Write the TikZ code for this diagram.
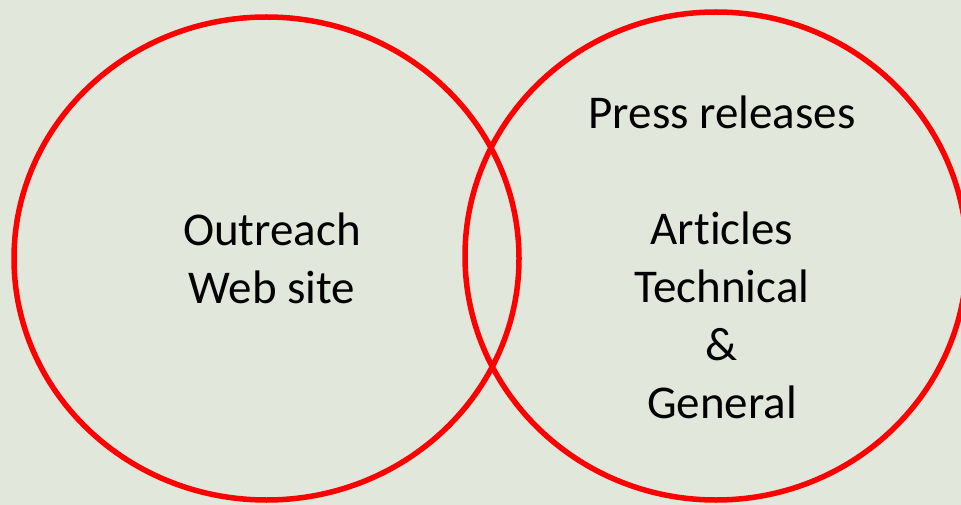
\documentclass[tikz,border=0pt]{standalone}
\usepackage{fontspec}
\setmainfont[Ligatures=NoCommon]{Carlito}
\usepackage{tikz}
\usetikzlibrary{shapes.geometric, positioning, calc}

\definecolor{meadow}{RGB}{226,231,220}
\definecolor{ringred}{RGB}{255,0,0}

\begin{document}
\begin{tikzpicture}[
        x=1pt, y=-1pt,
        ring/.style={ellipse, draw=ringred, line width=5.5pt, inner sep=0pt},
        label text/.style={align=center, text=black, font=\fontsize{47}{58}\selectfont}
    ]
        \useasboundingbox (0,0) rectangle (961,505);
        \fill[meadow] (0,0) rectangle (961,505);

        \node[ring, minimum width=505pt, minimum height=483pt] (outreach) at (266.5,258.5) {};
        \node[ring, minimum width=502pt, minimum height=488pt] (press) at (716,256) {};

        \node[label text] (webtext) at (272,258) {Outreach\\Web site};
        \node[label text] (presstext) at (722,257) {Press releases\\[58pt]Articles\\Technical\\\&\\General};
    \end{tikzpicture}
\end{document}
